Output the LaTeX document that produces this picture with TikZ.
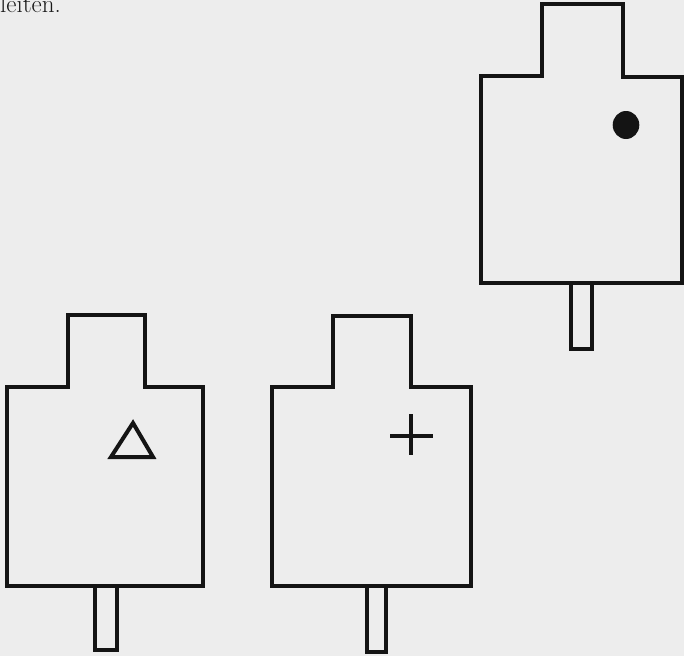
\documentclass[tikz,border=0pt]{standalone}
\begin{document}
\begin{tikzpicture}[x=1pt,y=-1pt,
  outline/.style={line width=3.4pt,line join=miter,draw=black!92},
  glyph/.style={line width=4pt,draw=black!92}]
\fill[black!7] (0,0) rectangle (684,656);
\useasboundingbox (0,0) rectangle (684,656);
% text fragment at top left (cut off by the top edge, as in the reference)
\node[anchor=base west,inner sep=0pt,text=black!90,font=\fontsize{25}{28}\selectfont] (txt) at (0,12) {leiten.};
% top-right figure
\draw[outline] (542,4) -- (623,4) -- (623,77) -- (682,77) -- (682,283) -- (481,283) -- (481,76) -- (542,76) -- cycle;
\draw[outline] (571,283) rectangle (592,349);
\fill[black!92] (626,125) ellipse [x radius=13.3,y radius=14];
% bottom-left figure
\draw[outline] (68,315) -- (145,315) -- (145,387) -- (203,387) -- (203,586) -- (7,586) -- (7,387) -- (68,387) -- cycle;
\draw[outline] (95,586) rectangle (117,650);
\draw[glyph,line join=miter] (133,423) -- (153,457) -- (111,457) -- cycle;
% bottom-middle figure
\draw[outline] (333,316) -- (411,316) -- (411,387) -- (471,387) -- (471,586) -- (272,586) -- (272,387) -- (333,387) -- cycle;
\draw[outline] (367,586) rectangle (386,652);
\draw[glyph] (390,436) -- (433,436);
\draw[glyph] (411,414) -- (411,455);
\end{tikzpicture}
\end{document}
